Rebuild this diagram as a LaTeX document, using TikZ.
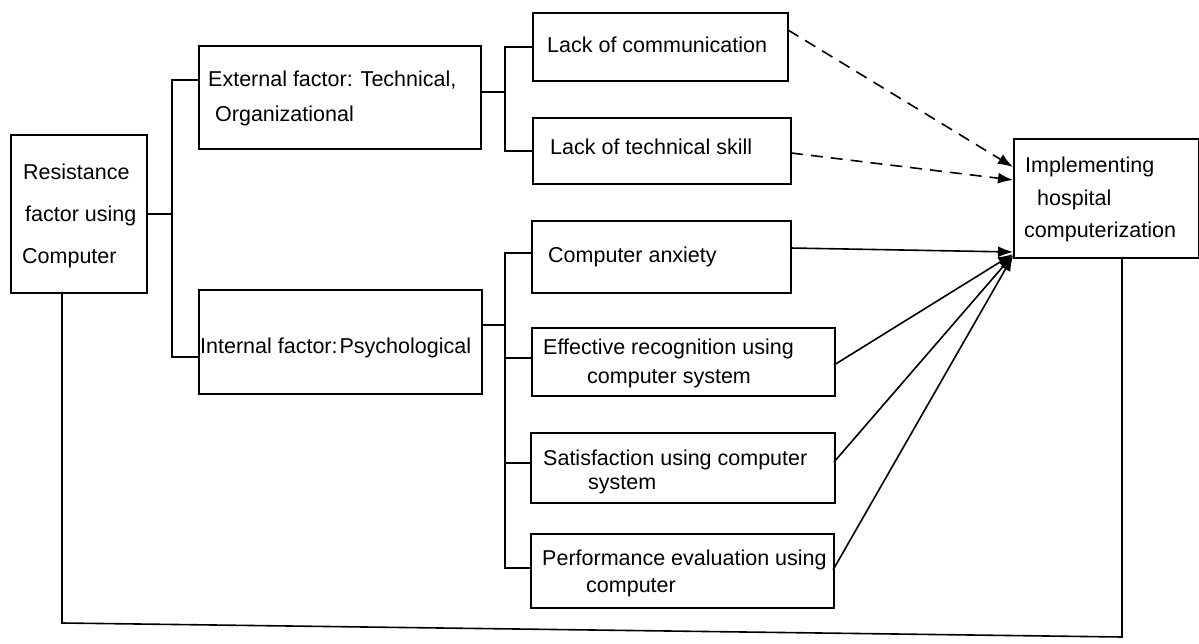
\documentclass[tikz,border=0pt]{standalone}
\usepackage{fontspec}
\setmainfont{Liberation Sans}
\usetikzlibrary{arrows.meta}
\begin{document}
\begin{tikzpicture}[x=1pt,y=-1pt,
  box/.style={draw,line width=1.6pt,inner sep=0pt,anchor=north west},
  txt/.style={anchor=base west,inner sep=0pt,font=\fontsize{21.5}{24}\selectfont},
  conn/.style={line width=1.6pt},
  dasharrow/.style={line width=1.6pt,dash pattern=on 12pt off 8pt,-{Latex[length=15pt,width=11pt]}},
  solidarrow/.style={line width=1.6pt,-{Latex[length=15pt,width=11pt]}}]
\useasboundingbox (0,0) rectangle (1199,644);
% boxes
\node[box,minimum width=136pt,minimum height=158pt] (res) at (10,134) {};
\node[box,minimum width=282pt,minimum height=103pt] (ext) at (198,45) {};
\node[box,minimum width=283pt,minimum height=104pt] (int) at (198,289) {};
\node[box,minimum width=255pt,minimum height=68pt] (comm) at (532,12) {};
\node[box,minimum width=258pt,minimum height=66pt] (tech) at (532,117) {};
\node[box,minimum width=259pt,minimum height=72pt] (anx) at (531,220) {};
\node[box,minimum width=303pt,minimum height=68pt] (eff) at (531,327) {};
\node[box,minimum width=304pt,minimum height=70pt] (sat) at (530,432) {};
\node[box,minimum width=303pt,minimum height=74pt] (perf) at (530,533) {};
\node[box,minimum width=185pt,minimum height=119pt] (impl) at (1013,138) {};
% texts
\node[txt] (t1) at (23,180) {Resistance};
\node[txt] (t2) at (25,222) {factor using};
\node[txt] (t3) at (22,264) {Computer};
\node[txt] (t4) at (208,87) {External factor: Technical,};
\node[txt] (t5) at (215,122) {Organizational};
\node[txt] (t6) at (200,353) {Internal factor:\kern2pt Psychological};
\node[txt] (t7) at (547,53) {Lack of communication};
\node[txt] (t8) at (550,155) {Lack of technical skill};
\node[txt] (t9) at (548,263) {Computer anxiety};
\node[txt] (t10) at (543,354) {Effective recognition using};
\node[txt] (t11) at (587,383) {computer system};
\node[txt] (t12) at (543,465) {Satisfaction using computer};
\node[txt] (t13) at (588,489) {system};
\node[txt] (t14) at (542,565) {Performance evaluation using};
\node[txt] (t15) at (586,592) {computer};
\node[txt] (t16) at (1025,173) {Implementing};
\node[txt] (t17) at (1037,206) {hospital};
\node[txt] (t18) at (1024,238) {computerization};
% tree connectors
\coordinate (j1) at (172,80);
\coordinate (eIn) at (198,80);
\coordinate (iIn) at (198,357);
\draw[conn] (eIn) -- (j1) |- (iIn);
\draw[conn] (res.east) -- (res.east -| j1);
\coordinate (eOut) at (480,92);
\coordinate (j2) at (505,92);
\draw[conn] (eOut) -- (j2);
\draw[conn] (comm.west) -| (j2) |- (tech.west);
\coordinate (iOut) at (481,325);
\coordinate (j3) at (505,325);
\draw[conn] (iOut) -- (j3);
\coordinate (aIn) at (531,253);
\coordinate (eIn2) at (531,358);
\coordinate (sIn) at (530,463);
\coordinate (pIn) at (530,568);
\draw[conn] (aIn) -- (505,253) -- (505,568) -- (pIn);
\draw[conn] (eIn2) -- (505,358);
\draw[conn] (sIn) -- (505,463);
% feedback loop
\coordinate (fb1) at (62,292);
\coordinate (fb2) at (62,623);
\coordinate (fb3) at (1122,637);
\coordinate (fb4) at (1122,257);
\draw[conn] (fb1) -- (fb2) -- (fb3) -- (fb4);
% arrows
\coordinate (c1) at (788,30);
\coordinate (c2) at (791,153);
\coordinate (a1) at (790,248);
\coordinate (a2) at (834,365);
\coordinate (a3) at (834,462);
\coordinate (a4) at (833,570);
\coordinate (h1) at (1013,167);
\coordinate (h2) at (1013,180);
\coordinate (h3) at (1013,252);
\coordinate (h4) at (1013,254);
\coordinate (h5) at (1013,255);
\coordinate (h6) at (1013,256);
\draw[dasharrow] (c1) -- (h1);
\draw[dasharrow] (c2) -- (h2);
\draw[solidarrow] (a1) -- (h3);
\draw[solidarrow] (a2) -- (h4);
\draw[solidarrow] (a3) -- (h5);
\draw[solidarrow] (a4) -- (h6);
\end{tikzpicture}
\end{document}
